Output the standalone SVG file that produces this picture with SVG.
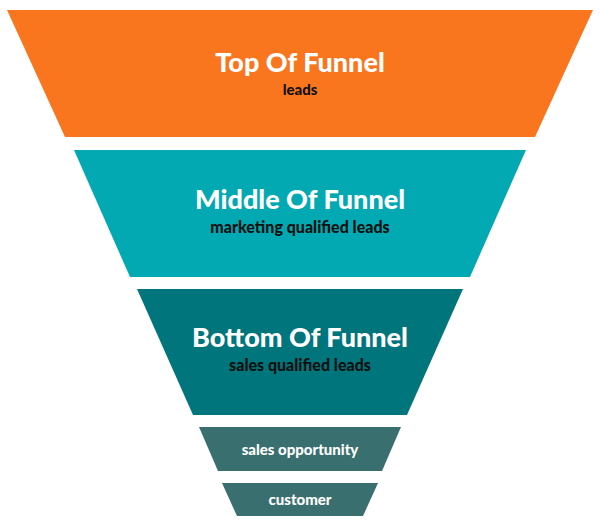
<svg xmlns="http://www.w3.org/2000/svg" width="600" height="531" viewBox="0 0 600 531">
<style>
.t{font-family:"Lato","Liberation Sans",sans-serif;font-weight:900;text-anchor:middle}
.w{fill:#fff}.b{fill:#111}
</style>
<rect width="600" height="531" fill="#fff"/>
<g id="top"><polygon points="7,10 593,10 535,137 65,137" fill="#F9761E"/>
<text class="t w" x="300" y="72" font-size="27">Top Of Funnel</text>
<text class="t b" x="300" y="95" font-size="15">leads</text></g>
<g id="middle"><polygon points="74,150 526,150 470,277 130,277" fill="#02A9B2"/>
<text class="t w" x="300" y="209" font-size="27">Middle Of Funnel</text>
<text class="t b" x="300" y="233" font-size="16">marketing qualified leads</text></g>
<g id="bottom"><polygon points="137,289 463,289 407,415 193,415" fill="#00757C"/>
<text class="t w" x="300" y="347" font-size="27">Bottom Of Funnel</text>
<text class="t b" x="300" y="371" font-size="16">sales qualified leads</text></g>
<g id="opportunity"><polygon points="199,427 401,427 382,471 218,471" fill="#3A6F6F"/>
<text class="t w" x="300" y="455" font-size="15">sales opportunity</text></g>
<g id="customer"><polygon points="222,483 378,483 363,516 237,516" fill="#3A6F6F"/>
<text class="t w" x="300" y="505" font-size="15">customer</text></g>
<g id="connectors"/>
</svg>
